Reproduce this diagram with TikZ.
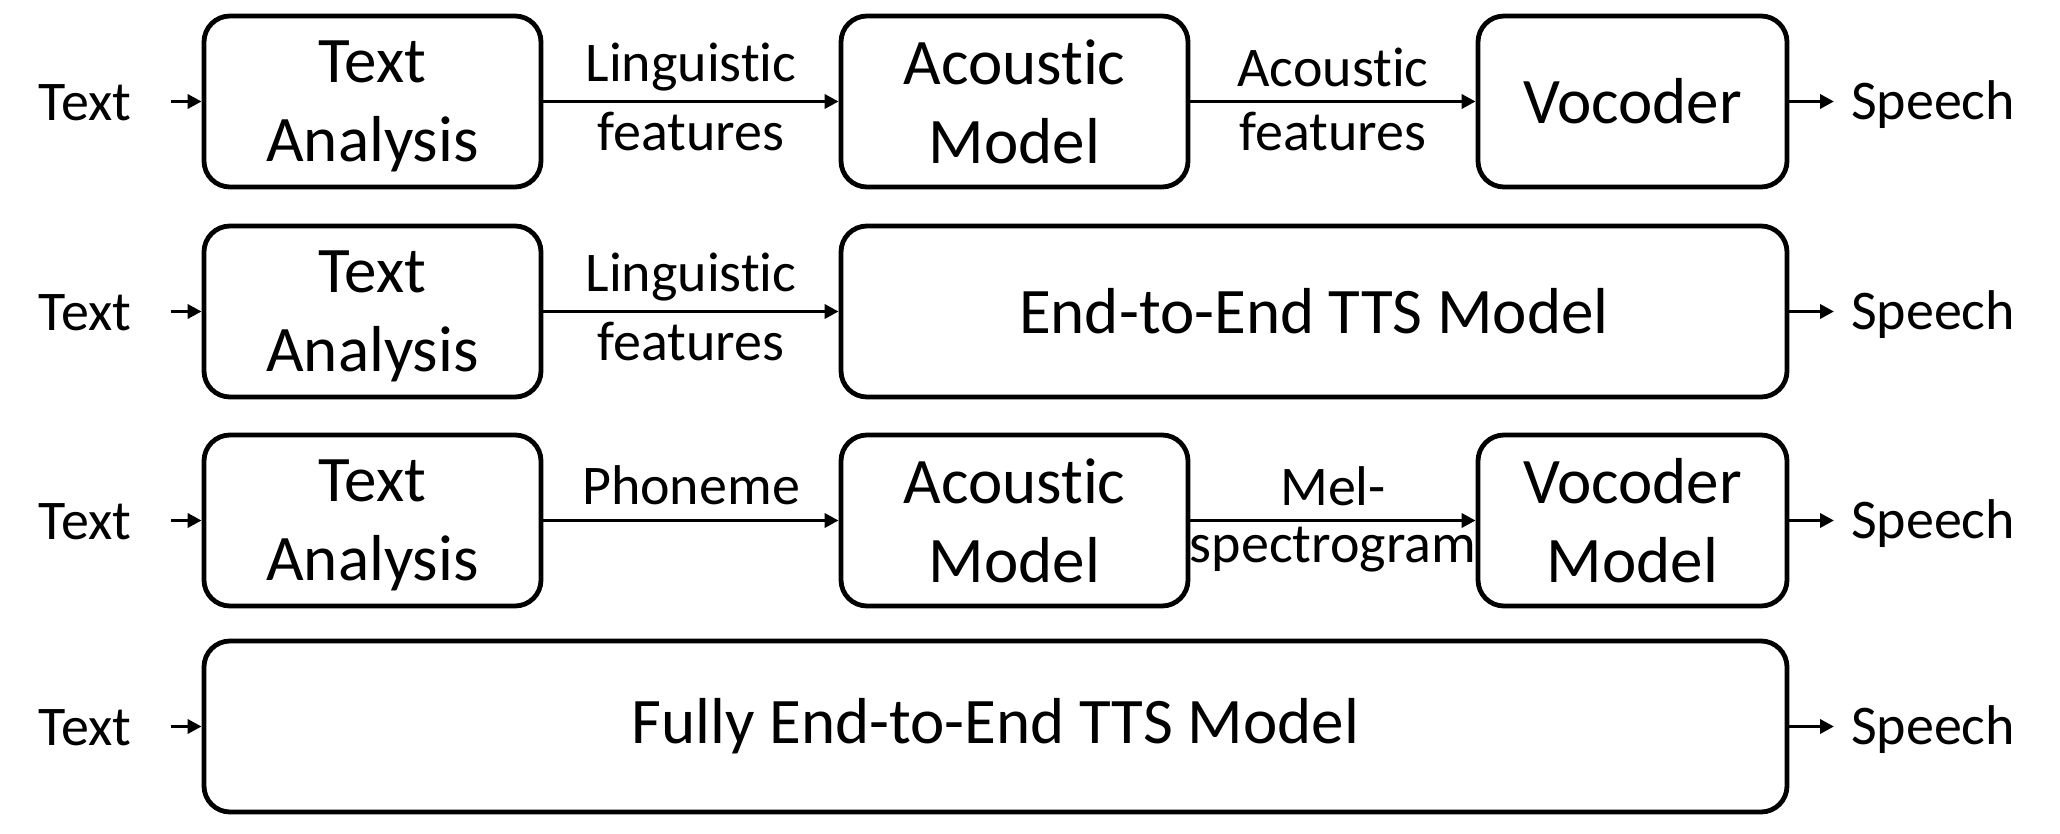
\documentclass[tikz,border=0pt]{standalone}
\usepackage{fontspec}
\setmainfont{Carlito}[Ligatures={NoCommon,NoContextual,NoRare}]
\usetikzlibrary{arrows.meta}
\newcommand{\nodepth}[1]{\raisebox{0pt}[\height][0pt]{#1}}
\begin{document}
\begin{tikzpicture}[x=0.5pt,y=-0.5pt,
  box/.style={draw=black, line width=2.4pt, rounded corners=13pt, align=center,
    minimum height=85.5pt, inner sep=0pt, font=\fontsize{32.5}{39.5}\selectfont},
  lab/.style={font=\fontsize{28}{33}\selectfont, inner sep=0pt},
  conn/.style={line width=1.9pt, -{Triangle[length=7pt,width=7pt]}}]
\useasboundingbox (0,0) rectangle (2060,834);
% Row 1
\node[box, minimum width=168.5pt] (ta1) at (372.5,101.5) {Text\\\nodepth{Analysis}};
\node[box, minimum width=173.5pt] (am1) at (1014.5,101.5) {Acoustic\\Model};
\node[box, minimum width=154.5pt] (vo1) at (1632.5,101.5) {Vocoder};
\node[lab] (tx1) at (85,103) {Text};
\node[lab] (sp1) at (1933,105) {Speech};
\coordinate (i1) at (171,101.5);
\coordinate (o1) at (1834,101.5);
\draw[conn] (i1) -- (ta1.west);
\draw[conn] (ta1.east) -- node[lab, pos=0.5, yshift=17pt] (l1a) {Linguistic} node[lab, pos=0.5, yshift=-15pt] (l1b) {features} (am1.west);
\draw[conn] (am1.east) -- node[lab, pos=0.5, yshift=17pt] (l1c) {Acoustic} node[lab, pos=0.5, yshift=-15pt] (l1d) {features} (vo1.west);
\draw[conn] (vo1.east) -- (o1);
% Row 2
\node[box, minimum width=168.5pt] (ta2) at (372.5,311.5) {Text\\\nodepth{Analysis}};
\node[box, minimum width=473pt] (e2e) at (1314,311.5) {End-to-End TTS Model};
\node[lab] (tx2) at (85,313) {Text};
\node[lab] (sp2) at (1933,315) {Speech};
\coordinate (i2) at (171,311.5);
\coordinate (o2) at (1834,311.5);
\draw[conn] (i2) -- (ta2.west);
\draw[conn] (ta2.east) -- node[lab, pos=0.5, yshift=17pt] (l2a) {Linguistic} node[lab, pos=0.5, yshift=-15pt] (l2b) {features} (e2e.west);
\draw[conn] (e2e.east) -- (o2);
% Row 3
\node[box, minimum width=168.5pt] (ta3) at (372.5,520.5) {Text\\\nodepth{Analysis}};
\node[box, minimum width=173.5pt] (am3) at (1014.5,520.5) {Acoustic\\Model};
\node[box, minimum width=154.5pt] (vo3) at (1632.5,520.5) {Vocoder\\Model};
\node[lab] (tx3) at (85,522) {Text};
\node[lab] (sp3) at (1933,524) {Speech};
\coordinate (i3) at (171,520.5);
\coordinate (o3) at (1834,520.5);
\draw[conn] (i3) -- (ta3.west);
\draw[conn] (ta3.east) -- node[lab, pos=0.5, yshift=17.5pt] (l3a) {Phoneme} (am3.west);
\draw[conn] (am3.east) -- node[lab, pos=0.5, yshift=17pt] (l3b) {Mel-} node[lab, pos=0.5, yshift=-14.5pt] (l3c) {spectrogram} (vo3.west);
\draw[conn] (vo3.east) -- (o3);
% Row 4
\node[box, minimum width=791.5pt] (full) at (995.5,726.5) {Fully End-to-End TTS Model};
\node[lab] (tx4) at (85,728) {Text};
\node[lab] (sp4) at (1933,730) {Speech};
\coordinate (i4) at (171,726.5);
\coordinate (o4) at (1834,726.5);
\draw[conn] (i4) -- (full.west);
\draw[conn] (full.east) -- (o4);
\end{tikzpicture}
\end{document}
